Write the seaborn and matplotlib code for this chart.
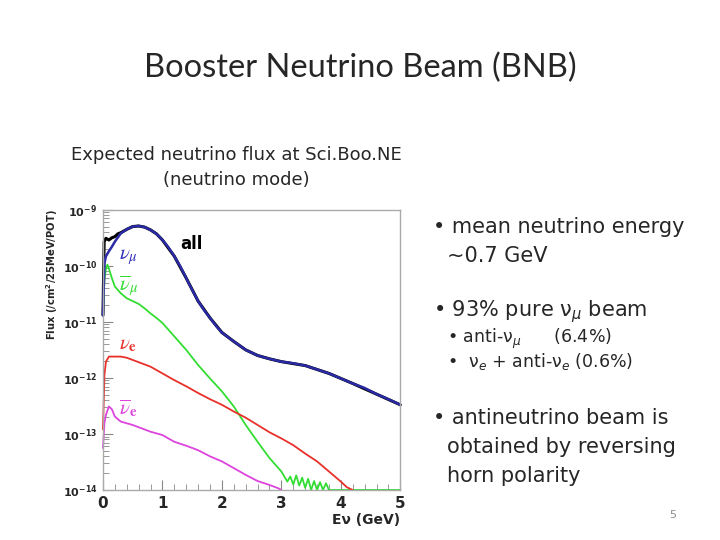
import numpy as np
import pandas as pd
import seaborn as sns
import matplotlib.pyplot as plt
from matplotlib.ticker import FixedLocator, MultipleLocator, LogLocator, NullFormatter

# flux, stored as log10(flux / (cm^2 25MeV POT))
numu_e = [0, 0.025, 0.05, 0.1, 0.15, 0.2, 0.3, 0.4, 0.5, 0.6, 0.7, 0.8, 0.9, 1.0, 1.1, 1.2, 1.3,
          1.4, 1.5, 1.6, 1.7, 1.8, 1.9, 2.0, 2.2, 2.4, 2.6, 2.8, 3.0, 3.2, 3.4, 3.6, 3.8, 4.0,
          4.2, 4.4, 4.6, 4.8, 5.0]
numu_log = [-10.88, -9.95, -9.83, -9.74, -9.66, -9.57, -9.42, -9.35, -9.30, -9.29, -9.31, -9.36,
            -9.43, -9.54, -9.67, -9.83, -10.01, -10.22, -10.43, -10.63, -10.79, -10.93, -11.07,
            -11.19, -11.35, -11.50, -11.60, -11.66, -11.71, -11.74, -11.78, -11.85, -11.92,
            -12.01, -12.10, -12.18, -12.29, -12.38, -12.48]

all_e = [0, 0.02, 0.05, 0.1, 0.15, 0.2, 0.25, 0.3, 0.4, 0.5, 0.6, 0.7, 0.8, 0.9, 1.0, 1.2, 1.4,
         1.6, 1.8, 2.0, 2.2, 2.4, 2.6, 2.8, 3.0, 3.4, 3.8, 4.2, 4.6, 5.0]
all_log = [-10.88, -9.57, -9.51, -9.54, -9.50, -9.48, -9.43, -9.41, -9.35, -9.30, -9.29, -9.31,
           -9.36, -9.43, -9.54, -9.83, -10.22, -10.63, -10.93, -11.19, -11.35, -11.50, -11.60,
           -11.66, -11.71, -11.78, -11.92, -12.10, -12.29, -12.48]

numubar_e = [0, 0.025, 0.05, 0.075, 0.1, 0.15, 0.2, 0.3, 0.4, 0.5, 0.6, 0.7, 0.8, 0.9, 1.0, 1.1,
             1.2, 1.4, 1.6, 1.8, 2.0, 2.2, 2.4, 2.6, 2.8, 3.0, 3.1, 3.15, 3.2, 3.25, 3.3, 3.35,
             3.4, 3.45, 3.5, 3.55, 3.6, 3.65, 3.7, 3.75, 3.8, 3.9, 5.0]
numubar_log = [-10.88, -10.25, -10.05, -9.98, -10.05, -10.22, -10.37, -10.49, -10.58, -10.63,
               -10.68, -10.76, -10.85, -10.93, -11.02, -11.14, -11.26, -11.50, -11.77, -12.01,
               -12.24, -12.51, -12.84, -13.14, -13.43, -13.67, -13.85, -13.76, -13.90, -13.74,
               -13.92, -13.78, -13.96, -13.80, -14.0, -13.84, -14.0, -13.86, -14.0, -13.88,
               -14.0, -14.0, -14.0]

nue_e = [0, 0.025, 0.05, 0.1, 0.2, 0.3, 0.4, 0.5, 0.6, 0.8, 1.0, 1.2, 1.4, 1.6, 1.8, 2.0, 2.2,
         2.4, 2.6, 2.8, 3.0, 3.2, 3.4, 3.6, 3.8, 4.0, 4.1, 4.2]
nue_log = [-12.92, -11.95, -11.71, -11.62, -11.62, -11.62, -11.64, -11.68, -11.72, -11.80,
           -11.92, -12.04, -12.15, -12.27, -12.38, -12.48, -12.60, -12.71, -12.84, -12.97,
           -13.08, -13.20, -13.35, -13.49, -13.67, -13.85, -13.95, -14.0]

nuebar_e = [0, 0.025, 0.05, 0.1, 0.15, 0.2, 0.3, 0.4, 0.5, 0.6, 0.8, 1.0, 1.2, 1.4, 1.6, 1.8,
            2.0, 2.2, 2.4, 2.6, 2.8, 2.95, 3.0]
nuebar_log = [-13.25, -12.80, -12.66, -12.51, -12.56, -12.69, -12.78, -12.81, -12.84, -12.88,
              -12.96, -13.02, -13.14, -13.21, -13.29, -13.40, -13.49, -13.61, -13.73, -13.84,
              -13.91, -13.97, -14.0]

sns.set_style("white")
plt.rcParams['font.family'] = ['DejaVu Sans']

fig = plt.figure(figsize=(7.2, 5.4), dpi=100)
ax = fig.add_axes([0.143, 0.0926, 0.413, 0.519])

series = [
    (all_e, all_log, 'black', 2.2),
    (numubar_e, numubar_log, '#33dd33', 1.3),
    (nue_e, nue_log, '#e8302a', 1.3),
    (nuebar_e, nuebar_log, '#dd44dd', 1.3),
    (numu_e, numu_log, '#2a2aa6', 1.8),
]
for e, lg, col, lw in series:
    df = pd.DataFrame({'E': e, 'flux': 10 ** np.array(lg)})
    sns.lineplot(data=df, x='E', y='flux', color=col, lw=lw, estimator=None, sort=False,
                 ax=ax, clip_on=False)

ax.set_yscale('log')
ax.set_xlim(0, 5)
ax.set_ylim(1e-14, 1e-9)

ax.xaxis.set_major_locator(FixedLocator([0, 1, 2, 3, 4, 5]))
ax.xaxis.set_minor_locator(MultipleLocator(0.2))
ax.yaxis.set_major_locator(FixedLocator([1e-14, 1e-13, 1e-12, 1e-11, 1e-10, 1e-9]))
ax.yaxis.set_minor_locator(LogLocator(base=10, subs=np.arange(2, 10)))
ax.yaxis.set_minor_formatter(NullFormatter())
ax.set_yticklabels([r'$\mathbf{10^{-%d}}$' % k for k in [14, 13, 12, 11, 10, 9]], fontsize=8)
ax.set_xticklabels(['0', '1', '2', '3', '4', '5'], fontsize=11, fontweight='bold')
ax.tick_params(which='both', direction='in', left=True, bottom=True, color='#888888')
ax.tick_params(which='major', length=7, pad=4)
ax.tick_params(which='minor', length=4)
for s in ax.spines.values():
    s.set_color('#aaaaaa')
    s.set_linewidth(1.0)

ax.set_xlabel('Eν (GeV)', loc='right', fontsize=10, fontweight='bold', labelpad=2)
ax.set_ylabel(r'Flux (/cm$^\mathbf{2}$/25MeV/POT)', loc='top', fontsize=7.2,
              fontweight='bold', labelpad=2)

lab = dict(fontsize=15, va='center', math_fontfamily='stix')
ax.text(1.3, 10 ** -9.62, 'all', fontsize=12, fontweight='bold', color='black', va='center')
ax.text(0.27, 10 ** -9.85, r'$\nu_\mu$', color='#3333bb', **lab)
ax.text(0.27, 10 ** -10.37, r'$\overline{\nu}_\mu$', color='#33dd33', **lab)
ax.text(0.27, 10 ** -11.4, r'$\nu_\mathbf{e}$', color='#e8302a', **lab)
ax.text(0.27, 10 ** -12.53, r'$\overline{\nu}_\mathbf{e}$', color='#dd44dd', **lab)

# slide text
fig.text(0.5, 1 - 68 / 540, 'Booster Neutrino Beam (BNB)', ha='center', va='center',
         fontsize=23.5, family='Lato')
fig.text(236 / 720, 1 - 155 / 540, 'Expected neutrino flux at Sci.Boo.NE', ha='center',
         va='center', fontsize=13)
fig.text(236 / 720, 1 - 180 / 540, '(neutrino mode)', ha='center', va='center', fontsize=13)

big = 15
small = 12.5
fig.text(433 / 720, 1 - 227 / 540, '• mean neutrino energy', va='center', fontsize=big)
fig.text(447 / 720, 1 - 256 / 540, '~0.7 GeV', va='center', fontsize=big)
fig.text(433 / 720, 1 - 312 / 540, '• 93% pure ν$_\\mu$ beam', va='center', fontsize=big)
fig.text(447 / 720, 1 - 339 / 540, '• anti-ν$_\\mu$      (6.4%)', va='center', fontsize=small)
fig.text(447 / 720, 1 - 362 / 540, '•  ν$_e$ + anti-ν$_e$ (0.6%)', va='center',
         fontsize=small)
fig.text(433 / 720, 1 - 418 / 540, '• antineutrino beam is', va='center', fontsize=big)
fig.text(447 / 720, 1 - 447 / 540, 'obtained by reversing', va='center', fontsize=big)
fig.text(447 / 720, 1 - 476 / 540, 'horn polarity', va='center', fontsize=big)
fig.text(673 / 720, 1 - 515 / 540, '5', ha='center', va='center', fontsize=8, color='#8c8c8c')

fig.savefig('out.png', dpi=100)
